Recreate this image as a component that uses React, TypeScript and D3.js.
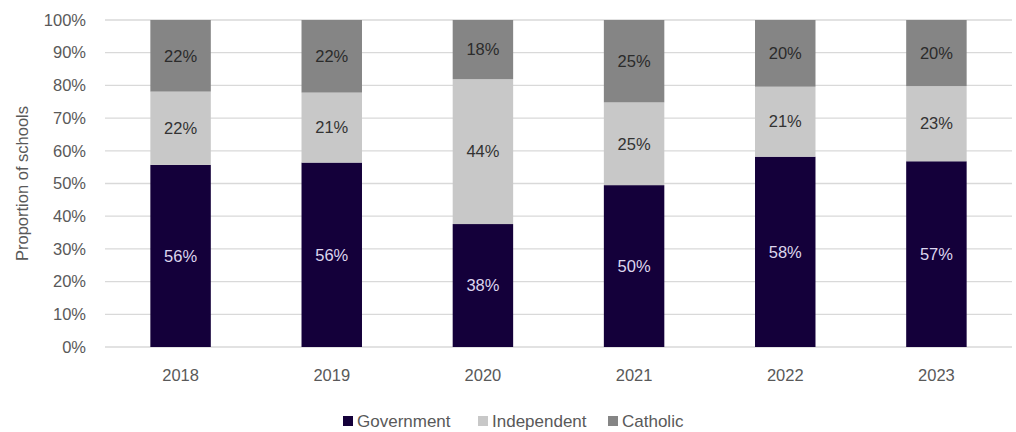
import React from "react";
import * as d3 from "d3";

const years = ["2018", "2019", "2020", "2021", "2022", "2023"];
const government = [55.7, 56.4, 37.6, 49.5, 58.2, 56.8];
const independent = [22.4, 21.4, 44.3, 25.3, 21.4, 23.0];
const catholic = [21.9, 22.2, 18.1, 25.2, 20.4, 20.2];
const seriesNames = ["Government", "Independent", "Catholic"];
const yTicks = [0, 10, 20, 30, 40, 50, 60, 70, 80, 90, 100];

const colors = ["#14003a", "#c8c8c8", "#858585"];
const labelColors = ["#ddd6ee", "#333333", "#2b2b2b"];

export default function App() {
  const W = 1016, H = 432;
  const left = 105, right = 1012, top = 20, bottom = 347;
  const x = d3.scaleBand<string>().domain(years).range([left, right]).paddingInner(0.6).paddingOuter(0.3);
  const y = d3.scaleLinear().domain([0, 100]).range([bottom, top]);
  const rows = years.map((yr, i) => ({ year: yr, Government: government[i], Independent: independent[i], Catholic: catholic[i] }));
  const stack = d3.stack<any>().keys(seriesNames)(rows);
  const font = "'Liberation Sans', Arial, sans-serif";

  const legendX = [343, 478, 608];

  return (
    <svg width={W} height={H} style={{ position: "absolute", left: 0, top: 0 }} fontFamily={font}>
      <rect width={W} height={H} fill="#ffffff" />
      {yTicks.map((t) => (
        <g key={t}>
          <line x1={left} x2={right} y1={y(t)} y2={y(t)} stroke="#d9d9d9" strokeWidth={1.3} />
          <text x={86} y={y(t)} dy="0.35em" textAnchor="end" fontSize={16.5} fill="#595959">{t}%</text>
        </g>
      ))}
      {stack.map((s, si) => (
        <g key={s.key}>
          {s.map((d, i) => {
            const y0 = y(d[0]), y1 = y(d[1]);
            const xv = x(years[i])!;
            return (
              <g key={i}>
                <rect x={xv} y={y1} width={x.bandwidth()} height={y0 - y1} fill={colors[si]} />
                <text x={xv + x.bandwidth() / 2} y={(y0 + y1) / 2} dy="0.35em" textAnchor="middle" fontSize={16.5} fill={labelColors[si]}>
                  {Math.round(d[1] - d[0])}%
                </text>
              </g>
            );
          })}
        </g>
      ))}
      {years.map((yr) => (
        <text key={yr} x={x(yr)! + x.bandwidth() / 2} y={375} dy="0.35em" textAnchor="middle" fontSize={16.5} fill="#595959">{yr}</text>
      ))}
      <text transform={`translate(28, ${(top + bottom) / 2}) rotate(-90)`} textAnchor="middle" fontSize={16.5} fill="#595959">Proportion of schools</text>
      {seriesNames.map((n, i) => (
        <g key={n}>
          <rect x={legendX[i]} y={416} width={10} height={10} fill={colors[i]} />
          <text x={legendX[i] + 14} y={421} dy="0.35em" fontSize={17} fill="#595959">{n}</text>
        </g>
      ))}
    </svg>
  );
}
